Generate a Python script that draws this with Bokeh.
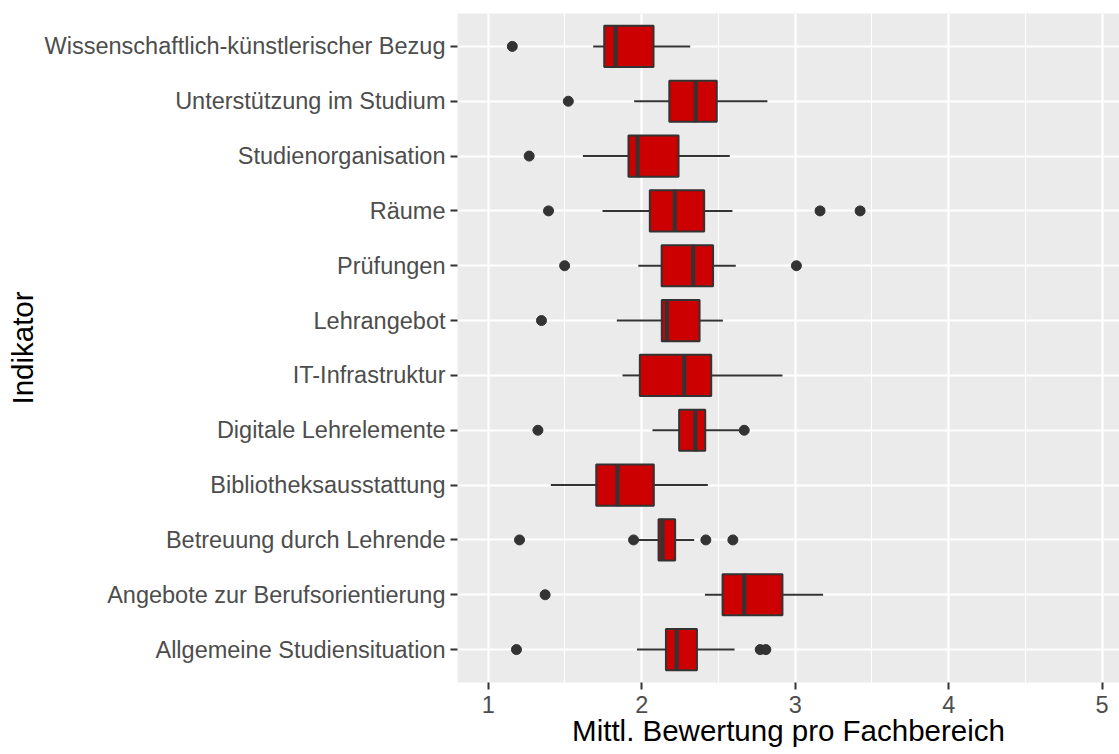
from bokeh.plotting import figure
from bokeh.models import FactorRange, Range1d, FixedTicker
from bokeh.embed import file_html
from bokeh.resources import INLINE

# Categories listed top to bottom as in the chart
categories = [
    "Wissenschaftlich-künstlerischer Bezug",
    "Unterstützung im Studium",
    "Studienorganisation",
    "Räume",
    "Prüfungen",
    "Lehrangebot",
    "IT-Infrastruktur",
    "Digitale Lehrelemente",
    "Bibliotheksausstattung",
    "Betreuung durch Lehrende",
    "Angebote zur Berufsorientierung",
    "Allgemeine Studiensituation",
]
whisker_low = [1.684, 1.951, 1.617, 1.745, 1.978, 1.838, 1.875, 2.070, 1.408, 1.955, 2.412, 1.969]
q1 =          [1.756, 2.180, 1.914, 2.053, 2.130, 2.131, 1.988, 2.244, 1.704, 2.110, 2.527, 2.158]
median =      [1.830, 2.352, 1.973, 2.215, 2.335, 2.164, 2.277, 2.349, 1.842, 2.135, 2.668, 2.227]
q3 =          [2.077, 2.489, 2.240, 2.407, 2.465, 2.377, 2.453, 2.414, 2.079, 2.218, 2.917, 2.360]
whisker_high = [2.316, 2.819, 2.574, 2.591, 2.613, 2.529, 2.917, 2.655, 2.431, 2.342, 3.182, 2.605]

outlier_cat = [
    "Wissenschaftlich-künstlerischer Bezug",
    "Unterstützung im Studium",
    "Studienorganisation",
    "Räume", "Räume", "Räume",
    "Prüfungen", "Prüfungen",
    "Lehrangebot",
    "Digitale Lehrelemente", "Digitale Lehrelemente",
    "Betreuung durch Lehrende", "Betreuung durch Lehrende", "Betreuung durch Lehrende", "Betreuung durch Lehrende",
    "Angebote zur Berufsorientierung",
    "Allgemeine Studiensituation", "Allgemeine Studiensituation", "Allgemeine Studiensituation",
]
outlier_val = [
    1.157,
    1.522,
    1.267,
    1.393, 3.162, 3.423,
    1.498, 3.008,
    1.347,
    1.324, 2.668,
    1.204, 1.947, 2.418, 2.594,
    1.371,
    1.184, 2.772, 2.809,
]

x_ticks = [1, 2, 3, 4, 5]
x_minor = [1.5, 2.5, 3.5, 4.5]
x_title = "Mittl. Bewertung pro Fachbereich"
y_title = "Indikator"

FONT = "Liberation Sans"
DARK = "#333333"

p = figure(
    width=1119, height=754,
    y_range=FactorRange(factors=list(reversed(categories)), range_padding=0.1,
                        range_padding_units="absolute"),
    x_range=Range1d(0.8, 5.113),
    output_backend="svg", toolbar_location=None,
    min_border_left=457, min_border_right=0, min_border_top=13, min_border_bottom=72,
)
p.background_fill_color = "#EBEBEB"
p.border_fill_color = "white"
p.outline_line_color = None

# whiskers
p.segment(x0=whisker_low, y0=categories, x1=q1, y1=categories, line_color=DARK, line_width=2)
p.segment(x0=q3, y0=categories, x1=whisker_high, y1=categories, line_color=DARK, line_width=2)
# boxes
p.hbar(y=categories, left=q1, right=q3, height=0.75, fill_color="#CC0000",
       line_color=DARK, line_width=2)
# medians
p.rect(x=median, y=categories, width=4, width_units="screen", height=0.77,
       fill_color=DARK, line_color=None)
# outliers
p.scatter(x=outlier_val, y=outlier_cat, size=10, fill_color=DARK, line_color=DARK)

# grids
p.xaxis.ticker = FixedTicker(ticks=x_ticks, minor_ticks=x_minor)
p.xgrid.grid_line_color = "white"
p.xgrid.grid_line_width = 2.2
p.xgrid.minor_grid_line_color = "white"
p.xgrid.minor_grid_line_width = 1.1
p.ygrid.grid_line_color = "white"
p.ygrid.grid_line_width = 2.2

for ax in (p.xaxis[0], p.yaxis[0]):
    ax.axis_line_color = None
    ax.major_tick_line_color = DARK
    ax.major_tick_line_width = 2
    ax.major_tick_out = 7
    ax.major_tick_in = 0
    ax.minor_tick_line_color = None
    ax.major_label_text_font = FONT
    ax.major_label_text_font_size = "23.5px"
    ax.major_label_text_color = "#4D4D4D"
    ax.axis_label_text_font = FONT
    ax.axis_label_text_font_size = "29.5px"
    ax.axis_label_text_font_style = "normal"
    ax.axis_label_text_color = "black"

p.xaxis.major_label_standoff = 6
p.yaxis.major_label_standoff = 5
p.xaxis.axis_label = x_title
p.xaxis.axis_label_standoff = -2
p.yaxis.axis_label = y_title
p.yaxis.axis_label_standoff = 3

open("out.html", "w").write(file_html(p, INLINE))
